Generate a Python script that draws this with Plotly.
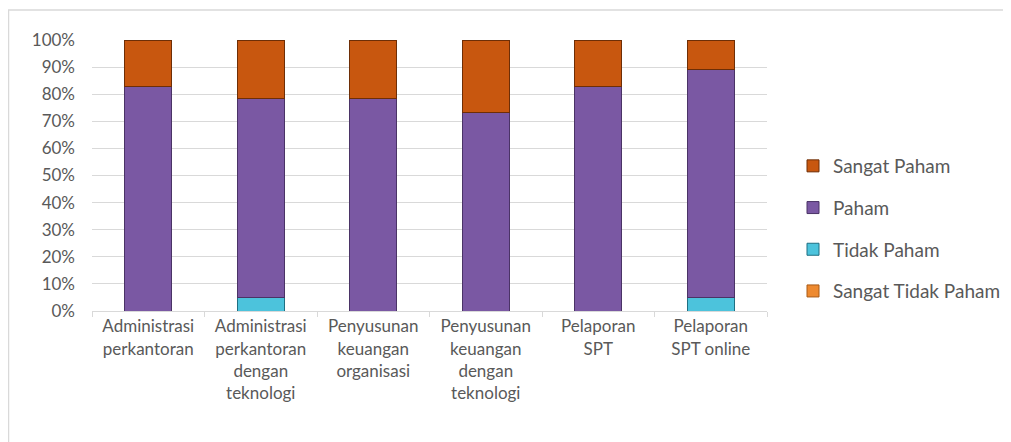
import plotly.graph_objects as go

categories = [
    "Administrasi<br>perkantoran",
    "Administrasi<br>perkantoran<br>dengan<br>teknologi",
    "Penyusunan<br>keuangan<br>organisasi",
    "Penyusunan<br>keuangan<br>dengan<br>teknologi",
    "Pelaporan<br>SPT",
    "Pelaporan<br>SPT online",
]
sangat_tidak_paham = [0, 0, 0, 0, 0, 0]
tidak_paham = [0, 5, 0, 0, 0, 5]
paham = [83, 73.3, 78.3, 73.2, 82.8, 84]
sangat_paham = [17, 21.7, 21.7, 26.8, 17.2, 11]

series = [
    ("Sangat Tidak Paham", sangat_tidak_paham, "#ee8a30", "#a85a16", 4),
    ("Tidak Paham", tidak_paham, "#4cc3dc", "#1f6f82", 3),
    ("Paham", paham, "#7a58a3", "#4a3366", 2),
    ("Sangat Paham", sangat_paham, "#c8570f", "#6e2e06", 1),
]

FONT = "Lato"
GRAY = "#595959"

fig = go.Figure()
for name, vals, col, edge, rank in series:
    fig.add_trace(go.Bar(
        x=categories, y=vals, name=name,
        marker=dict(color=col, line=dict(color=edge, width=1)),
        width=0.414, legendgroup=name, legendrank=rank,
    ))

# figure is placed at (8,8) by the page body margin
W, H = 1003, 434
L, R, T, B = 84, 759, 32, 303
pw, ph = R - L, B - T

def px_x(p):
    return (p - L) / pw

def px_y(p):
    return (B - p) / ph

fig.update_layout(
    width=W, height=H,
    margin=dict(l=L, r=W - R, t=T, b=H - B, autoexpand=False),
    barmode="stack",
    plot_bgcolor="white",
    paper_bgcolor="white",
    font=dict(family=FONT, size=17, color=GRAY),
    showlegend=True,
    legend=dict(
        x=px_x(785), xanchor="left",
        y=px_y(139), yanchor="top",
        traceorder="grouped",
        tracegroupgap=14,
        font=dict(family=FONT, size=19, color=GRAY),
        bgcolor="rgba(0,0,0,0)",
    ),
    xaxis=dict(
        type="category",
        showgrid=False,
        showline=True, linecolor="#d9d9d9", linewidth=1,
        ticks="outside", tickson="boundaries", ticklen=5, tickcolor="#d9d9d9",
        tickfont=dict(family=FONT, size=17, color=GRAY),
        tickangle=0,
    ),
    yaxis=dict(
        range=[0, 100], dtick=10, ticksuffix="%",
        showgrid=True, gridcolor="#d9d9d9", gridwidth=1,
        zeroline=False, showline=False,
        tickfont=dict(family=FONT, size=17, color=GRAY),
        ticks="", ticklabelstandoff=16,
    ),
    shapes=[
        dict(type="rect", xref="paper", yref="paper",
             x0=px_x(0.5), x1=px_x(1020), y0=px_y(450), y1=px_y(2),
             line=dict(color="#d9d9d9", width=1.5), layer="below"),
    ],
)

fig.write_html("out.html")
